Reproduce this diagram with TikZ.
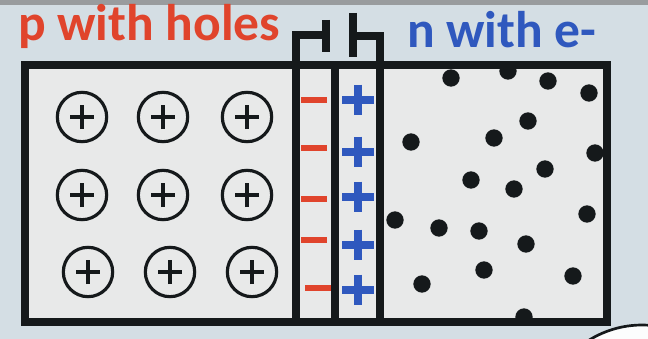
\documentclass[tikz,border=0pt]{standalone}
\usepackage{fontspec}
\setmainfont{Carlito}
\usetikzlibrary{positioning}

\definecolor{wallbg}{HTML}{D4DEE4}
\definecolor{boxbg}{HTML}{E8E9E9}
\definecolor{holered}{HTML}{E0442C}
\definecolor{elecblue}{HTML}{2F58BE}
\definecolor{inkblack}{HTML}{15191B}

\begin{document}
\begin{tikzpicture}[
    x=0.03cm, y=-0.03cm,
    wall/.style={draw=inkblack, line width=6.8pt},
    title/.style={font=\fontsize{44}{48}\selectfont\bfseries, anchor=base west, inner sep=0pt},
    hole/.style={circle, draw=inkblack, line width=2.7pt, minimum size=1.48cm, inner sep=0pt,
        path picture={\draw[inkblack, line width=2.9pt]
            ([xshift=-3.6mm]path picture bounding box.center) -- ([xshift=3.6mm]path picture bounding box.center)
            ([yshift=-3.6mm]path picture bounding box.center) -- ([yshift=3.6mm]path picture bounding box.center);}},
    electron/.style={circle, fill=inkblack, minimum size=0.52cm, inner sep=0pt},
    negion/.style={rectangle, fill=holered, minimum width=0.8cm, minimum height=0.18cm, inner sep=0pt},
    posion/.style={rectangle, minimum width=0.96cm, minimum height=0.92cm, inner sep=0pt,
        path picture={\draw[elecblue, line width=6pt]
            (path picture bounding box.west) -- (path picture bounding box.east)
            (path picture bounding box.north) -- (path picture bounding box.south);}},
]

% ---------- page ----------
\useasboundingbox (0,0) rectangle (648,339);
\fill[wallbg] (0,0) rectangle (648,339);
\fill[gray!70!wallbg] (0,0) rectangle (648,5);
\fill[white!94!wallbg, draw=inkblack, line width=2.3pt] (642,425) circle (100);

% ---------- labels ----------
\node[title, text=holered] (ptitle) at (18,41) {p with holes};
\node[title, text=elecblue] (ntitle) at (407,48) {n with e-};

% ---------- regions ----------
\fill[boxbg] (25,65) rectangle (607,322);

% ---------- holes (p side) ----------
\foreach \x/\y [count=\i] in {82/117,163/117,247/117, 82/195,163/195,247/195, 88/272,170/272,252/272}
  { \node[hole] (h\i) at (\x,\y) {}; }

% ---------- electrons (n side) ----------
\foreach \x/\y [count=\i] in {451/78, 508/71, 548/81, 589/93, 528/121, 411/142, 494/138,
    595/153, 545/169, 471/180, 514/189, 395/220, 439/228, 479/231, 587/214,
    526/244, 484/270, 573/276, 422/284, 524/317}
  { \node[electron] (e\i) at (\x,\y) {}; }

% ---------- depletion layer ----------
\foreach \y [count=\i] in {100,148,199,240}
  { \node[negion] (m\i) at (314,\y) {}; }
\node[negion] (m5) at (318,288) {};
\foreach \y [count=\i] in {100,152,197,245,290}
  { \node[posion] (q\i) at (358,\y) {}; }

% ---------- walls ----------
\draw[wall] (25,65) rectangle (607,322);
\draw[wall] (296,65) -- (296,322);
\draw[wall] (335,65) -- (335,322);
\draw[wall] (380,65) -- (380,322);

% ---------- terminals ----------
\draw[wall] (296,65) |- (327,35);
\draw[wall] (326,20) -- (326,52);
\draw[wall] (380,65) |- (353,36);
\draw[wall] (353,13) -- (353,57);

\end{tikzpicture}
\end{document}
